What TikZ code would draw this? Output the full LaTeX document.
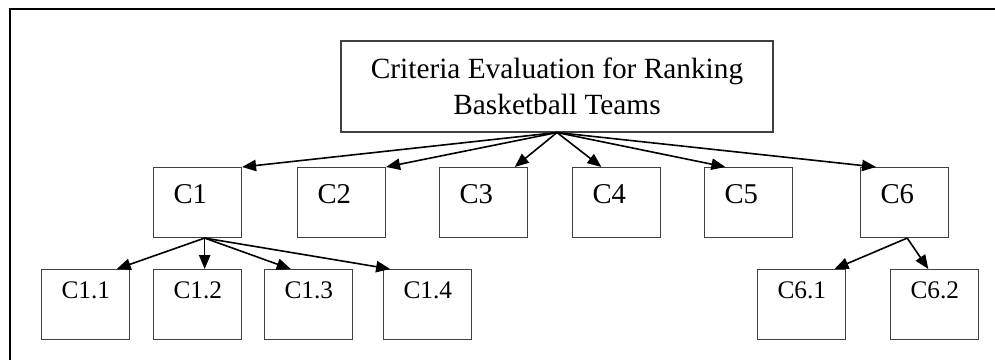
\documentclass[tikz,border=0pt]{standalone}
\usepackage{fontspec}
\setmainfont{Liberation Serif}
\usetikzlibrary{arrows.meta,calc}
\begin{document}
\begin{tikzpicture}[x=0.75pt,y=-0.75pt,
  box/.style={draw=black!75,line width=0.8pt,anchor=north west,inner ysep=0pt,inner xsep=15pt,align=left,text width=36pt},
  cbox/.style={box,text height=27pt,text depth=25.5pt,font=\fontsize{21.5}{25}\selectfont},
  subbox/.style={box,text height=21.75pt,text depth=30.75pt,font=\fontsize{19}{23}\selectfont},
  arr/.style={draw=black,line width=1.2pt,-{Triangle[length=10.5pt,width=8.5pt]}},
  frame/.style={draw=black,line width=1.6pt}
]
\useasboundingbox (0,0) rectangle (995,360);
\clip (0,0) rectangle (995,360);
\draw[frame] (10,365) -- (10,9) -- (1000,9);

\node[draw=black!75,line width=0.8pt,minimum width=324pt,minimum height=68.25pt,inner sep=0pt,
      align=center,font=\fontsize{22}{27}\selectfont] (title) at (557,86.5)
      {Criteria Evaluation for Ranking\\Basketball Teams};

\node[cbox] (c1) at (153,167) {C1};
\node[cbox] (c2) at (297,167) {C2};
\node[cbox] (c3) at (439,167) {C3};
\node[cbox] (c4) at (572,167) {C4};
\node[cbox] (c5) at (704,167) {C5};
\node[cbox] (c6) at (860,167) {C6};

\node[subbox] (c11) at (41,269) {C1.1};
\node[subbox] (c12) at (153,269) {C1.2};
\node[subbox] (c13) at (264,269) {C1.3};
\node[subbox] (c14) at (383,269) {C1.4};
\node[subbox] (c61) at (757,269) {C6.1};
\node[subbox] (c62) at (890,269) {C6.2};

\draw[arr] (title.south) -- (c1.north east);
\draw[arr] (title.south) -- (c2.north east);
\draw[arr] (title.south) -- ($(c3.north west)!0.85!(c3.north east)$);
\draw[arr] (title.south) -- ($(c4.north west)!0.33!(c4.north east)$);
\draw[arr] (title.south) -- ($(c5.north west)!0.24!(c5.north east)$);
\draw[arr] (title.south) -- ($(c6.north west)!0.18!(c6.north east)$);

\coordinate (c1s) at ($(c1.south west)!0.58!(c1.south east)$);
\draw[arr] (c1s) -- ($(c11.north west)!0.85!(c11.north east)$);
\draw[arr] (c1s) -- ($(c12.north west)!0.58!(c12.north east)$);
\draw[arr] (c1s) -- ($(c13.north west)!0.30!(c13.north east)$);
\draw[arr] (c1s) -- ($(c14.north west)!0.08!(c14.north east)$);

\coordinate (c6s) at ($(c6.south west)!0.53!(c6.south east)$);
\draw[arr] (c6s) -- ($(c61.north west)!0.87!(c61.north east)$);
\draw[arr] (c6s) -- ($(c62.north west)!0.43!(c62.north east)$);
\end{tikzpicture}
\end{document}
